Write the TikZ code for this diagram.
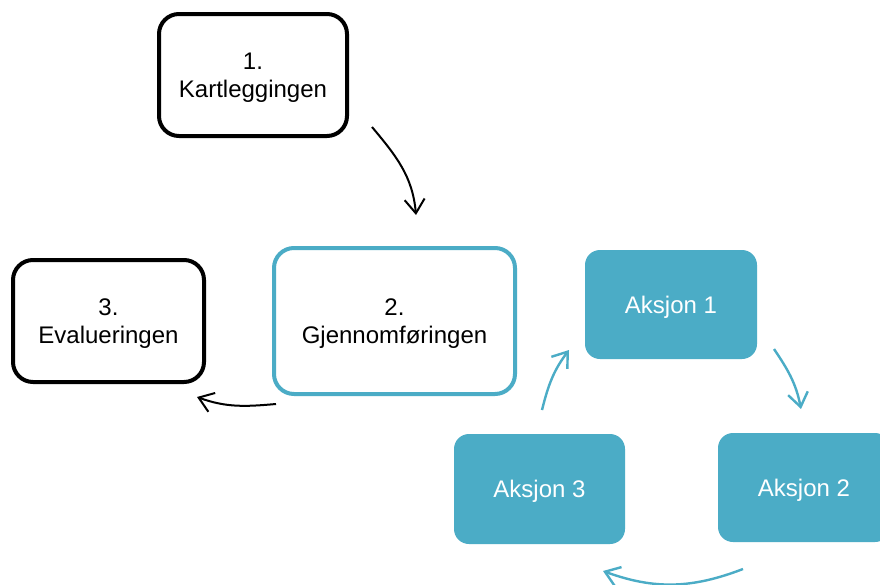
\documentclass[tikz,border=0pt]{standalone}
\usepackage{fontspec}
\setmainfont{Liberation Sans}
\usetikzlibrary{arrows.meta}
\definecolor{aqua}{HTML}{4BACC6}
\begin{document}
\begin{tikzpicture}[x=1pt,y=1pt,
  txt/.style={align=center, font=\fontsize{24}{27.5}\selectfont, inner sep=0pt},
  box/.style={txt, draw=black, line width=4pt, rounded corners=20pt, fill=white, text depth=0pt},
  act/.style={txt, fill=aqua, draw=none, rounded corners=15pt, text=white, text height=17.2pt, text depth=0pt},
  barrow/.style={line width=2pt, -{Straight Barb[length=14pt,width=20pt]}},
  aarrow/.style={barrow, draw=aqua, line width=2.4pt}
]
\useasboundingbox (0,0) rectangle (880,-584);
\clip (0,0) rectangle (880,-584);
\fill[white] (0,0) rectangle (880,-584);

\node[box, minimum width=188pt, minimum height=122pt] (k) at (253,-75) {1.\\Kartleggingen};
\node[box, draw=aqua, minimum width=241pt, minimum height=146pt] (g) at (394.5,-321) {2.\\Gjennomføringen};
\node[box, minimum width=191pt, minimum height=122pt] (e) at (108.5,-321) {3.\\Evalueringen};

\node[act, minimum width=172pt, minimum height=109pt] (a1) at (671,-304.5) {Aksjon 1};
\node[act, minimum width=172pt, minimum height=109pt] (a2) at (804,-487.5) {Aksjon 2};
\node[act, minimum width=171pt, minimum height=110pt] (a3) at (539.5,-489) {Aksjon 3};

\coordinate (k1) at (372,-127);
\coordinate (g1) at (416,-215);
\coordinate (g2) at (276,-404);
\coordinate (e2) at (197,-397);
\coordinate (a1s) at (774,-349);
\coordinate (a2e) at (801,-409);
\coordinate (a2s) at (743,-569);
\coordinate (a3e) at (603,-571);
\coordinate (a3s) at (542,-410);
\coordinate (a1e) at (569,-350);

\draw[barrow] (k1) to[out=-50, in=95] (g1);
\draw[barrow] (g2) to[out=185, in=-20] (e2);
\draw[aarrow] (a1s) to[out=-56, in=101] (a2e);
\draw[aarrow] (a2s) to[out=201, in=-20] (a3e);
\draw[aarrow] (a3s) to[out=76, in=233] (a1e);
\end{tikzpicture}
\end{document}
